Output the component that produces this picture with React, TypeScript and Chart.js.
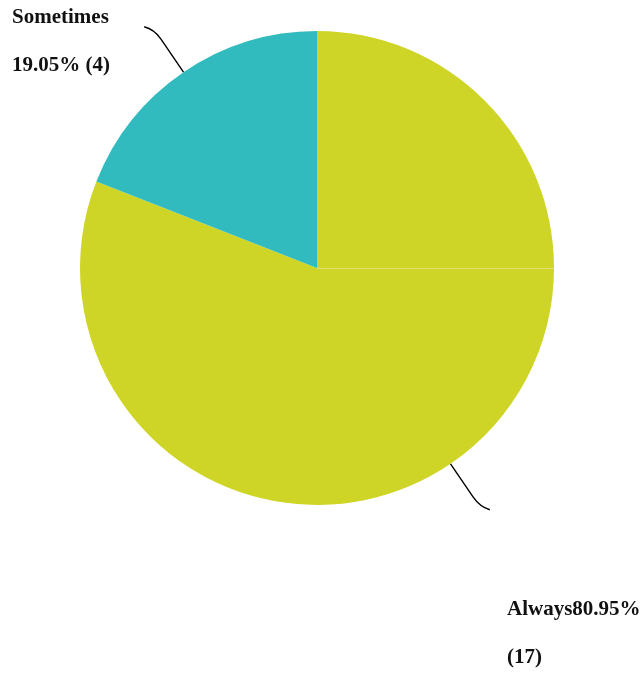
import React, { useEffect, useRef } from "react";
import { Chart, registerables } from "chart.js";

Chart.register(...registerables);

const categories = ["Always", "Sometimes"];
const counts = [17, 4];
const percentLabels = ["80.95%", "19.05%"];
const colors = ["#CFD527", "#31BBBF"];

const labelPlugin = {
  id: "leaderLabels",
  afterDatasetsDraw(chart: any) {
    const ctx = chart.ctx as CanvasRenderingContext2D;
    const meta = chart.getDatasetMeta(0);
    ctx.save();
    // faint seam at 3 o'clock, as in the reference
    const a0: any = meta.data[0];
    if (a0) {
      ctx.strokeStyle = "rgba(255,255,255,0.35)";
      ctx.lineWidth = 1;
      ctx.beginPath();
      ctx.moveTo(a0.x, a0.y + 0.5);
      ctx.lineTo(a0.x + a0.outerRadius, a0.y + 0.5);
      ctx.stroke();
    }
    ctx.strokeStyle = "#000";
    ctx.lineWidth = 1.4;
    ctx.fillStyle = "#111";
    ctx.font = "bold 21px 'Liberation Serif', 'Times New Roman', serif";
    ctx.textBaseline = "alphabetic";
    meta.data.forEach((arc: any, i: number) => {
      const { x, y, startAngle, endAngle, outerRadius } = arc.getProps(
        ["x", "y", "startAngle", "endAngle", "outerRadius"],
        true
      );
      const mid = (startAngle + endAngle) / 2;
      const c = Math.cos(mid);
      const s = Math.sin(mid);
      const ex = x + outerRadius * c;
      const ey = y + outerRadius * s;
      const p1x = x + (outerRadius + 40) * c;
      const p1y = y + (outerRadius + 40) * s;
      const p2x = x + (outerRadius + 52) * c;
      const p2y = y + (outerRadius + 52) * s;
      const dirX = c >= 0 ? 1 : -1;
      const endX = p2x + dirX * 10;
      const endY = p2y + (s >= 0 ? 3 : -2.5);
      ctx.beginPath();
      ctx.moveTo(ex, ey);
      ctx.lineTo(p1x, p1y);
      ctx.quadraticCurveTo(p2x, p2y, endX, endY);
      ctx.stroke();
      ctx.textAlign = "left";
      if (categories[i] === "Sometimes") {
        ctx.fillText(categories[i], 12, 23);
        ctx.fillText(percentLabels[i] + " (" + counts[i] + ")", 12, 71);
      } else {
        ctx.fillText(categories[i] + percentLabels[i], 507, 615);
        ctx.fillText("(" + counts[i] + ")", 507, 663);
      }
    });
    ctx.restore();
  },
};

export default function App() {
  const ref = useRef<HTMLCanvasElement | null>(null);
  useEffect(() => {
    if (!ref.current) return;
    const chart = new Chart(ref.current, {
      type: "pie",
      data: {
        labels: categories,
        datasets: [
          {
            data: counts,
            backgroundColor: colors,
            borderWidth: 0,
          },
        ],
      },
      options: {
        animation: false,
        responsive: true,
        maintainAspectRatio: false,
        layout: { padding: { left: 80, right: 87, top: 31, bottom: 169 } },
        plugins: {
          legend: { display: false },
          tooltip: { enabled: false },
        },
      },
      plugins: [labelPlugin],
    });
    return () => chart.destroy();
  }, []);
  return (
    <div style={{ position: "absolute", left: 0, top: 0, width: 641, height: 674 }}>
      <canvas ref={ref} />
    </div>
  );
}
